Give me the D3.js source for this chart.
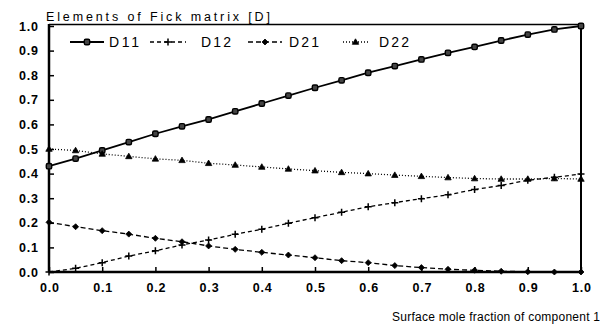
<!DOCTYPE html>
<html>
<head>
<meta charset="utf-8">
<script src="https://cdn.jsdelivr.net/npm/d3@7"></script>
<style>
  body { margin: 0; background: #fff; }
  text { font-family: "Liberation Sans", Arial, sans-serif; fill: #000; }
</style>
</head>
<body>
<div id="chart"></div>
<script>
var width = 605,
    height = 325;

// surface mole fraction of component 1
var xs = [0, 0.05, 0.1, 0.15, 0.2, 0.25, 0.3, 0.35, 0.4, 0.45, 0.5,
          0.55, 0.6, 0.65, 0.7, 0.75, 0.8, 0.85, 0.9, 0.95, 1.0];

var d11 = [0.43, 0.461, 0.494, 0.528, 0.562, 0.592, 0.62, 0.653, 0.685, 0.717, 0.749,
           0.779, 0.81, 0.837, 0.864, 0.891, 0.915, 0.941, 0.965, 0.986, 1.0];
var d12 = [0.0, 0.015, 0.038, 0.065, 0.086, 0.11, 0.13, 0.153, 0.174, 0.198, 0.221,
           0.243, 0.265, 0.282, 0.298, 0.314, 0.335, 0.352, 0.373, 0.385, 0.398];
var d21 = [0.202, 0.184, 0.168, 0.154, 0.137, 0.123, 0.106, 0.092, 0.08, 0.069, 0.058,
           0.046, 0.038, 0.026, 0.018, 0.011, 0.007, 0.003, 0.001, 0.0, 0.0];
var d22 = [0.5, 0.494, 0.48, 0.47, 0.46, 0.454, 0.442, 0.435, 0.427, 0.419, 0.412,
           0.405, 0.4, 0.394, 0.389, 0.384, 0.38, 0.378, 0.378, 0.38, 0.378];

var seriesNames = ["D11", "D12", "D21", "D22"];
var xTicks = [0, 0.1, 0.2, 0.3, 0.4, 0.5, 0.6, 0.7, 0.8, 0.9, 1.0];
var yTicks = [0, 0.1, 0.2, 0.3, 0.4, 0.5, 0.6, 0.7, 0.8, 0.9, 1.0];

var series = [
    {name: "D11", values: d11, dash: null, symbol: "square"},
    {name: "D12", values: d12, dash: "4,3", symbol: "plus"},
    {name: "D21", values: d21, dash: "5,3", symbol: "diamond"},
    {name: "D22", values: d22, dash: "1,2", symbol: "triangle"}
];

var x = d3.scaleLinear().domain([0, 1]).range([49, 581]);
var y = d3.scaleLinear().domain([0, 1]).range([272, 26]);

var svg = d3.select("#chart")
    .append("svg")
    .attr("width", width)
    .attr("height", height);

// frame: top line and right line
svg.append("line")
    .attr("x1", x(0)).attr("x2", x(1))
    .attr("y1", 24.5).attr("y2", 24.5)
    .attr("stroke", "#000").attr("stroke-width", 1.5);
svg.append("line")
    .attr("x1", x(1)).attr("x2", x(1))
    .attr("y1", 24.5).attr("y2", y(0))
    .attr("stroke", "#000").attr("stroke-width", 2);

// axes, ticks point inward
var xAxis = d3.axisBottom(x).tickValues(xTicks).tickSize(-5)
    .tickFormat(d3.format(".1f"));
var yAxis = d3.axisLeft(y).tickValues(yTicks).tickSize(-5)
    .tickFormat(d3.format(".1f"));

var gx = svg.append("g")
    .attr("transform", "translate(0," + y(0) + ")")
    .call(xAxis);
var gy = svg.append("g")
    .attr("transform", "translate(" + x(0) + ",0)")
    .call(yAxis);

gx.select(".domain").attr("d", "M" + x(0) + ",0H" + x(1)).attr("stroke-width", 2.5);
gy.select(".domain").attr("d", "M0," + y(0) + "V24").attr("stroke-width", 2.5);
svg.selectAll(".tick line").attr("stroke-width", 1.5);

gx.selectAll(".tick text")
    .attr("y", 11)
    .attr("dy", "0.71em")
    .attr("textLength", 19)
    .style("font-size", "12.5px")
    .style("font-weight", "bold");
gy.selectAll(".tick text")
    .attr("x", -11)
    .attr("textLength", 19)
    .style("font-size", "12.5px")
    .style("font-weight", "bold");

// lines
var line = d3.line()
    .x(function(d, i) { return x(xs[i]); })
    .y(function(d) { return y(d); });

svg.selectAll(".series")
    .data(series)
    .enter()
    .append("path")
    .attr("class", "series")
    .attr("d", function(d) { return line(d.values); })
    .attr("fill", "none")
    .attr("stroke", "#000")
    .attr("stroke-width", function(d) { return d.name === "D11" ? 1.8 : 1.3; })
    .attr("stroke-dasharray", function(d) { return d.dash; });

function drawSymbol(g, kind, cx, cy) {
    if (kind === "square") {
        g.append("rect")
            .attr("x", cx - 2.7).attr("y", cy - 2.7)
            .attr("width", 5.4).attr("height", 5.4)
            .attr("rx", 1.5)
            .attr("fill", "#444").attr("stroke", "#000").attr("stroke-width", 1.4);
    } else if (kind === "plus") {
        g.append("path")
            .attr("d", "M" + (cx - 3.5) + "," + cy + "H" + (cx + 3.5) +
                       "M" + cx + "," + (cy - 3.5) + "V" + (cy + 3.5))
            .attr("stroke", "#000").attr("stroke-width", 1.5);
    } else if (kind === "diamond") {
        g.append("path")
            .attr("d", "M" + cx + "," + (cy - 3) + "L" + (cx + 3) + "," + cy +
                       "L" + cx + "," + (cy + 3) + "L" + (cx - 3) + "," + cy + "Z")
            .attr("fill", "#000").attr("stroke", "#000").attr("stroke-width", 0.8);
    } else if (kind === "triangle") {
        g.append("path")
            .attr("d", "M" + cx + "," + (cy - 3.2) + "L" + (cx + 3.2) + "," + (cy + 2.3) +
                       "L" + (cx - 3.2) + "," + (cy + 2.3) + "Z")
            .attr("fill", "#000").attr("stroke", "#000").attr("stroke-width", 0.8);
    }
}

var marks = svg.append("g");
series.forEach(function(s) {
    s.values.forEach(function(v, i) {
        drawSymbol(marks, s.symbol, x(xs[i]), y(v));
    });
});

// legend
var legendY = 42;
var legendPos = [
    {x1: 70, x2: 104, tx: 109},
    {x1: 150, x2: 186, tx: 201},
    {x1: 248, x2: 282, tx: 289},
    {x1: 343, x2: 368, tx: 379}
];
var legend = svg.append("g");
series.forEach(function(s, i) {
    var p = legendPos[i];
    legend.append("line")
        .attr("x1", p.x1).attr("x2", p.x2)
        .attr("y1", legendY).attr("y2", legendY)
        .attr("stroke", "#000")
        .attr("stroke-width", s.name === "D11" ? 1.8 : 1.3)
        .attr("stroke-dasharray", s.dash);
    drawSymbol(legend, s.symbol, (p.x1 + p.x2) / 2, legendY);
    legend.append("text")
        .attr("x", p.tx)
        .attr("y", legendY + 5)
        .attr("textLength", 30)
        .style("font-size", "14px")
        .text(seriesNames[i]);
});

// title and axis label
svg.append("text")
    .attr("x", 46)
    .attr("y", 21)
    .attr("textLength", 224)
    .style("font-size", "12.5px")
    .text("Elements of Fick matrix [D]");

svg.append("text")
    .attr("x", 392)
    .attr("y", 321)
    .attr("textLength", 208)
    .style("font-size", "12px")
    .text("Surface mole fraction of component 1");
</script>
</body>
</html>
